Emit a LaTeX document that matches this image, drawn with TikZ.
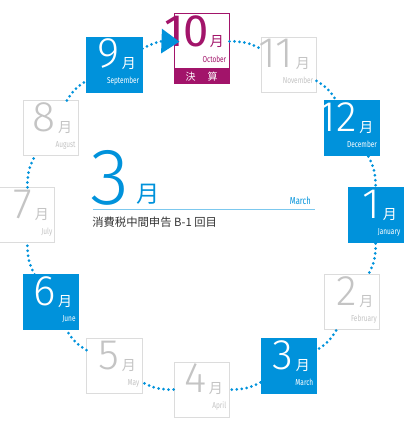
\documentclass[tikz,border=0pt]{standalone}
\usepackage{fontspec}
\setmainfont{Fira Sans}
\newfontfamily\thinfont{Fira Sans Light}
\newfontfamily\narrowfont{Fira Sans}[FakeStretch=0.75]
\newfontfamily\jpfont{Noto Sans CJK JP}
\usepackage{tikz}
\usetikzlibrary{arrows.meta}

\definecolor{calblue}{HTML}{0092DB}
\definecolor{calred}{HTML}{A2146A}
\definecolor{calgrey}{HTML}{C4C4C4}
\definecolor{calline}{HTML}{DCDCDC}
\definecolor{calrule}{HTML}{7CC8EE}

\begin{document}
\begin{tikzpicture}[x=0.75pt, y=0.75pt,
                monthbox/.style={rectangle, draw, minimum size=41.25pt, inner sep=0pt, line width=0.75pt}, % square for a month
                bluebox/.style={monthbox, fill=calblue, draw=calblue},
                palebox/.style={monthbox, fill=white, draw=calline},
                closebox/.style={monthbox, fill=white, draw=calred},
                digits/.style={inner sep=0pt, font=\thinfont\fontsize{32}{32}\selectfont},
                kanji/.style={inner sep=0pt, font=\jpfont\fontsize{10.5}{10.5}\selectfont},
                engname/.style={inner sep=0pt, font=\narrowfont\fontsize{6.5}{6.5}\selectfont},
                dots/.style={draw=calblue, line width=2.25pt, line cap=round, dash pattern=on 0pt off 3.75pt} % dotted ring
                ]
                \useasboundingbox (-201.5,-207.5) rectangle (201.5,215.5);

                % months
                \foreach \ang/\num/\eng/\kind/\ink in {120/9/September/bluebox/white, 60/11/November/palebox/calgrey,
                    30/12/December/bluebox/white, 0/1/January/bluebox/white, -30/2/February/palebox/calgrey,
                    -60/3/March/bluebox/white, -90/4/April/palebox/calgrey, -120/5/May/palebox/calgrey,
                    -150/6/June/bluebox/white, 180/7/July/palebox/calgrey, 150/8/August/palebox/calgrey} {
                  \node[\kind] (m\num) at (\ang:174) {};
                  \node[digits, text=\ink, anchor=base east] (d\num) at ([shift={(33,-31)}]m\num.north west) {\num};
                  \node[kanji, text=\ink, anchor=base west] (k\num) at ([shift={(35,-32)}]m\num.north west) {月};
                  \node[engname, text=\ink, anchor=base east] (e\num) at ([shift={(-3,-47)}]m\num.north east) {\eng};
                }

                % October, closing of the year
                \node[closebox] (m10) at (90:174) {};
                \node[rectangle, fill=calred, draw=calred, line width=0.75pt, minimum width=41.25pt, minimum height=10.5pt,
                      inner sep=0pt, anchor=north, text=white, font=\jpfont\fontsize{7.5}{7.5}\selectfont] (bar10) at (m10.south) {決\hspace{9pt}算};
                \node[inner sep=0pt, text=calred, anchor=base east, font=\fontsize{34}{34}\selectfont] (d10) at ([shift={(36,-33)}]m10.north west) {10};
                \node[kanji, text=calred, anchor=base west] (k10) at ([shift={(36,-33)}]m10.north west) {月};
                \node[engname, text=calred, anchor=base east] (e10) at ([shift={(-3,-49)}]m10.north east) {October};

                % the ring of dots
                \foreach \a/\b in {10/11, 11/12, 12/1, 1/2, 2/3, 3/4, 4/5, 5/6, 6/7, 7/8, 8/9}
                  \draw[dots] (m\a) to[bend left=15] (m\b);
                \draw[dots, -{Triangle[length=13.5pt, width=18pt]}, shorten >=-4.5pt] (m9) to[bend left=15] (m10);

                % this month
                \node[inner sep=0pt, text=calblue, anchor=base west, font=\thinfont\fontsize{60}{60}\selectfont] (bigthree) at (-111,10.5) {3};
                \node[inner sep=0pt, text=calblue, anchor=base west, font=\jpfont\fontsize{17.5}{17.5}\selectfont] (bigmonth) at (-65.5,12.5) {月};
                \node[inner sep=0pt, text=calblue, anchor=base east, font=\narrowfont\fontsize{7.6}{7.6}\selectfont] (bigeng) at (109.5,10.5) {March};
                \coordinate (rulel) at (-108.5,5.5);
                \coordinate (ruler) at (113.5,5.5);
                \draw[calrule, line width=0.75pt] (rulel) -- (ruler);
                \node[inner sep=0pt, text=black!80, anchor=base west, font=\jpfont\fontsize{8.5}{8.5}\selectfont] (task) at (-109.5,-11) {消費税中間申告 B-1 回目};
            \end{tikzpicture}
\end{document}
